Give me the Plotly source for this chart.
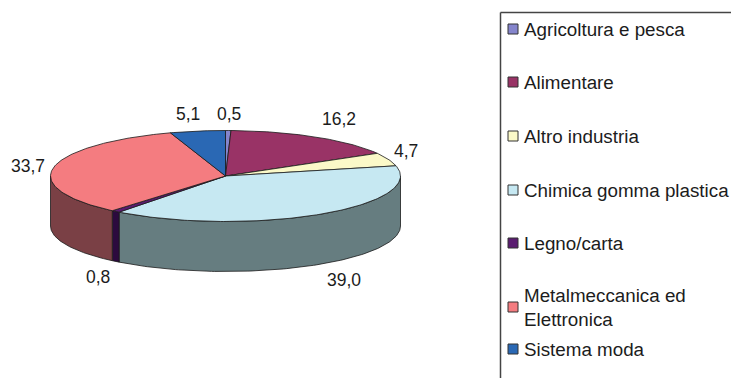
import math
import plotly.graph_objects as go

# Share of each sector, in percent, clockwise from twelve o'clock
sectors = ["Agricoltura e pesca", "Alimentare", "Altro industria", "Chimica gomma plastica",
           "Legno/carta", "Metalmeccanica ed<br>Elettronica", "Sistema moda"]
shares = [0.5, 16.2, 4.7, 39.0, 0.8, 33.7, 5.1]

top_colors = ["#8585cc", "#993366", "#fbf9c8", "#c6e8f2", "#5a1c70", "#f47c80", "#2a68b4"]
side_colors = ["#42426a", "#4d1a33", "#7d7c64", "#667d80", "#2c0a3e", "#7a4045", "#15345a"]

# Page layout of the pie disc, in pixels
CX, CY, RX, RY, DEPTH = 225.5, 176.0, 175.0, 45.5, 50.0
EDGE = "#1a1a1a"
FONT = "Liberation Sans, Arial, sans-serif"
TEXT = "#1c1c1c"

# Value label anchors, one per sector
label_x = [229, 339, 406, 344, 98, 28, 188]
label_y = [114, 119, 151, 280, 277, 166, 114]

# Legend rows
legend_y = [29, 82, 136, 190, 243, 307, 349]
SWATCH_X, LEGEND_TEXT_X = 513, 522


def rim(theta_deg, drop=0.0):
    t = math.radians(theta_deg)
    return CX + RX * math.sin(t), CY - RY * math.cos(t) + drop


def arc(a, b, drop=0.0):
    steps = max(2, int(abs(b - a)) + 2)
    pts = [rim(a + (b - a) * i / (steps - 1), drop) for i in range(steps)]
    return [p[0] for p in pts], [p[1] for p in pts]


fig = go.Figure()


def polygon(xs, ys, color):
    fig.add_trace(go.Scatter(x=xs, y=ys, mode="lines", fill="toself", fillcolor=color,
                             line=dict(color=EDGE, width=0.8), hoverinfo="skip", showlegend=False))


# Walk the slices once to get their angular spans
spans = []
start = 0.0
for value in shares:
    end = start + value * 3.6
    spans.append((start, end))
    start = end

# Outer wall: only the part of each slice on the front half of the disc
for (a, b), color in zip(spans, side_colors):
    lo, hi = max(a, 90.0), min(b, 270.0)
    if lo < hi:
        x0, y0 = arc(lo, hi)
        x1, y1 = arc(hi, lo, DEPTH)
        polygon(x0 + x1 + x0[:1], y0 + y1 + y0[:1], color)

# Top face
for (a, b), color in zip(spans, top_colors):
    xs, ys = arc(a, b)
    polygon([CX] + xs + [CX], [CY] + ys + [CY], color)

# Legend swatches
fig.add_trace(go.Scatter(
    x=[SWATCH_X] * len(sectors), y=legend_y, mode="markers",
    marker=dict(symbol="square", size=10, color=top_colors, line=dict(color="#333333", width=1)),
    hoverinfo="skip", showlegend=False))

annotations = []
for value, x, y in zip(shares, label_x, label_y):
    annotations.append(dict(x=x, y=y, xref="x", yref="y", showarrow=False,
                            text=f"{value:.1f}".replace(".", ","),
                            font=dict(family=FONT, size=17.5, color=TEXT)))
for name, y in zip(sectors, legend_y):
    annotations.append(dict(x=LEGEND_TEXT_X, y=y, xref="x", yref="y", showarrow=False,
                            xanchor="left", align="left", text=name,
                            font=dict(family=FONT, size=18.8, color=TEXT)))

fig.update_layout(
    width=731, height=378, margin=dict(l=0, r=0, t=0, b=0),
    paper_bgcolor="white", plot_bgcolor="white",
    xaxis=dict(range=[0, 731], visible=False, fixedrange=True),
    yaxis=dict(range=[378, 0], visible=False, fixedrange=True),
    annotations=annotations,
    shapes=[
        # Legend frame, running off the right and bottom of the page
        dict(type="line", x0=500.5, y0=12.5, x1=731, y1=12.5, line=dict(color="#444444", width=1.5)),
        dict(type="line", x0=500.5, y0=12.5, x1=500.5, y1=378, line=dict(color="#444444", width=1.5)),
    ],
)

fig.write_html("out.html")
